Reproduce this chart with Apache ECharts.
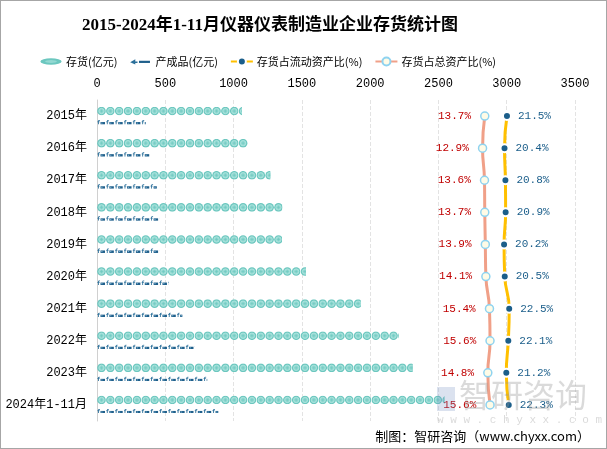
<!DOCTYPE html>
<html><head><meta charset="utf-8">
<script src="https://cdn.jsdelivr.net/npm/echarts@6/dist/echarts.min.js"></script>
<style>
html,body{margin:0;padding:0;background:#fff;}
#c{width:607px;height:449px;box-sizing:border-box;border:1px solid #a6a6a6;}
</style></head><body>
<div id="c"></div>
<script>
const categories = ['2015年','2016年','2017年','2018年','2019年','2020年','2021年','2022年','2023年','2024年1-11月'];
const inventory = [1062, 1106, 1269, 1357, 1355, 1530, 1932, 2210, 2312, 2545];
const finishedGoods = [357, 387, 438, 455, 455, 525, 625, 715, 807, 888];
const currentRatio = [21.5, 20.4, 20.8, 20.9, 20.2, 20.5, 22.5, 22.1, 21.2, 22.3];
const totalRatio = [13.7, 12.9, 13.6, 13.7, 13.9, 14.1, 15.4, 15.6, 14.8, 15.6];
const xTicks = [0, 500, 1000, 1500, 2000, 2500, 3000, 3500];

const circleSvg = 'image://data:image/svg+xml;utf8,' + encodeURIComponent(
 '<svg xmlns="http://www.w3.org/2000/svg" width="18" height="18" viewBox="0 0 18 18">' +
 '<circle cx="9" cy="9" r="8.6" fill="#6cc7bf"/>' +
 '<circle cx="9" cy="9" r="5.4" fill="#93d9d2" stroke="#b9e9e4" stroke-width="1.4"/>' +
 '<path d="M6 9h6M9 6v6" stroke="#6cc7bf" stroke-width="1.2"/></svg>');
const fmSvg = 'image://data:image/svg+xml;utf8,' + encodeURIComponent(
 '<svg xmlns="http://www.w3.org/2000/svg" width="18" height="10" viewBox="0 0 18 10">' +
 '<path d="M2 10V3Q2 1 4.5 1H6V2.5H4.5Q3.7 2.5 3.7 3.5V10Z" fill="#2a6f9a"/>' +
 '<rect x="0.5" y="4" width="5" height="1.3" fill="#2a6f9a"/>' +
 '<rect x="7" y="5" width="9" height="5" fill="#1f5f8b"/>' +
 '<rect x="8.5" y="6.2" width="2.5" height="2" fill="#7fb3d1"/></svg>');
const legendInv = 'image://data:image/svg+xml;utf8,' + encodeURIComponent(
 '<svg xmlns="http://www.w3.org/2000/svg" width="30" height="10" viewBox="0 0 30 10">' +
 '<ellipse cx="15" cy="5" rx="14.5" ry="4.5" fill="#6cc7bf"/>' +
 '<ellipse cx="15" cy="5" rx="8" ry="2" fill="#93d9d2"/></svg>');
const legendFm = 'image://data:image/svg+xml;utf8,' + encodeURIComponent(
 '<svg xmlns="http://www.w3.org/2000/svg" width="30" height="10" viewBox="0 0 30 10">' +
 '<path d="M1 6L8 2V5H11V7H8V9Z" fill="#2a6f9a"/>' +
 '<rect x="13" y="4" width="15" height="3" fill="#1f5f8b"/></svg>');

const mono = "'Liberation Mono','Noto Sans CJK SC',monospace";
const chart = echarts.init(document.getElementById('c'), null, {renderer:'canvas'});
chart.setOption({
  animation: false,
  textStyle: {fontFamily: mono},
  title: {
    text: '2015-2024年1-11月仪器仪表制造业企业存货统计图',
    left: 76, top: 11,
    textStyle: {fontFamily: "'Liberation Serif','Noto Sans CJK SC',serif", fontWeight: 'bold', fontSize: 17, color: '#000'}
  },
  legend: {
    top: 50, left: 34, itemGap: 12, itemWidth: 22, itemHeight: 10,
    textStyle: {fontSize: 11, color: '#000', fontFamily: "'Noto Sans CJK SC',sans-serif", padding: [0, 0, 0, -1]},
    data: [
      {name: '存货(亿元)', icon: legendInv},
      {name: '产成品(亿元)', icon: legendFm},
      {name: '存货占流动资产比(%)'},
      {name: '存货占总资产比(%)'}
    ]
  },
  grid: {left: 96, right: 31, top: 99, bottom: 27, containLabel: false},
  xAxis: [
    {type: 'value', position: 'top', min: xTicks[0], max: xTicks[xTicks.length-1], interval: 500,
     axisLine: {show: false}, axisTick: {show: false},
     axisLabel: {color: '#000', fontSize: 12, margin: 10, fontFamily: mono, formatter: v => String(v)},
     splitLine: {show: true, lineStyle: {type: 'dashed', color: '#e3e3e3'}}},
    {type: 'value', show: false, min: -126.4, max: 46.3},
    {type: 'value', show: false, min: -162.3, max: 52}
  ],
  yAxis: {
    type: 'category', inverse: true, data: categories,
    axisLine: {show: true, lineStyle: {color: '#d0d0d0'}},
    axisTick: {show: false},
    axisLabel: {color: '#000', fontSize: 12, margin: 10, fontFamily: mono}
  },
  series: [
    {name: '存货(亿元)', type: 'pictorialBar', xAxisIndex: 0, data: inventory,
     symbol: circleSvg, symbolRepeat: true, symbolClip: true, symbolSize: [9, 9], symbolMargin: 0,
     symbolOffset: [0, -5], barGap: '-100%', z: 3},
    {name: '产成品(亿元)', type: 'pictorialBar', xAxisIndex: 0, data: finishedGoods,
     symbol: fmSvg, symbolRepeat: true, symbolClip: true, symbolSize: [9, 5], symbolMargin: 0,
     symbolOffset: [0, 6], barGap: '-100%', z: 3},
    {name: '存货占流动资产比(%)', type: 'line', xAxisIndex: 2, data: currentRatio, smooth: true,
     lineStyle: {color: '#ffc000', width: 3}, itemStyle: {color: '#1b5e8a', borderColor: '#fff', borderWidth: 2},
     symbol: 'circle', symbolSize: 8, z: 5,
     label: {show: true, position: 'right', distance: 6, formatter: '{c}%', color: '#1b5e8a', fontSize: 11, fontFamily: mono}},
    {name: '存货占总资产比(%)', type: 'line', xAxisIndex: 1, data: totalRatio, smooth: true,
     lineStyle: {color: '#f0a088', width: 3}, itemStyle: {color: '#fffbe6', borderColor: '#8fd3f0', borderWidth: 1.5},
     symbol: 'circle', symbolSize: 8, z: 5,
     label: {show: true, position: 'left', distance: 9, formatter: '{c}%', color: '#c00000', fontSize: 11, fontFamily: mono}}
  ],
  graphic: [
    {type: 'text', right: 16, bottom: 5, style: {text: '制图：智研咨询（www.chyxx.com）', fontSize: 13, fill: '#000', fontFamily: "'Noto Sans CJK SC',sans-serif"}, z: 10},
    {type: 'text', left: 458, top: 378, style: {text: '智研咨询', fontSize: 32, fill: 'rgba(150,150,150,0.35)', fontFamily: "'Noto Sans CJK SC',sans-serif"}, z: 10},
    {type: 'text', left: 436, top: 414, style: {text: 'w w w . c h y x x . c o m', fontSize: 11, fill: 'rgba(150,150,150,0.35)', fontFamily: mono}, z: 10},
    {type: 'rect', shape: {x: 436, y: 386, width: 18, height: 24}, style: {fill: 'rgba(110,140,190,0.25)'}, z: 10}
  ]
});
</script></body></html>
